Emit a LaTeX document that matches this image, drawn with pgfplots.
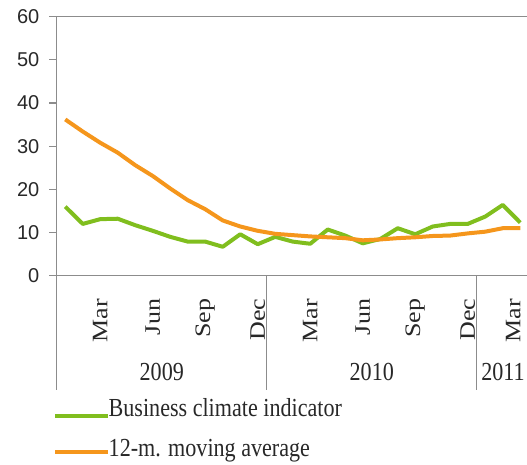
\documentclass[border=0pt]{standalone}
\usepackage{pgfplots}
\pgfplotsset{compat=1.18}
\usepackage{graphicx}
\usepackage{fontspec}
\setmainfont{Liberation Serif}
\newfontfamily\ysans{Liberation Sans}
\definecolor{bcigreen}{RGB}{128,190,30}
\definecolor{maorange}{RGB}{245,150,28}
\definecolor{axgray}{RGB}{140,140,140}
\definecolor{txt}{RGB}{40,40,40}
\newcommand\sq[1]{\scalebox{0.85}[1]{#1}}
\newcommand\sqr[1]{\scalebox{1}[0.85]{#1}}
\pgfplotstableread{
i g o
0 16.0 36.2
1 12.0 33.4
2 13.1 30.8
3 13.2 28.5
4 11.7 25.6
5 10.4 23.1
6 9.0 20.2
7 7.9 17.5
8 7.9 15.4
9 6.7 12.8
10 9.6 11.4
11 7.3 10.4
12 9.0 9.7
13 7.9 9.4
14 7.4 9.1
15 10.7 8.9
16 9.3 8.7
17 7.5 8.2
18 8.5 8.4
19 11.0 8.7
20 9.6 8.9
21 11.4 9.2
22 12.0 9.3
23 12.0 9.8
24 13.7 10.2
25 16.4 11.0
26 12.3 11.0
}\datatable
\begin{document}
\begin{tikzpicture}
\useasboundingbox (-56.5pt,-188.3pt) rectangle (470.5pt,275.7pt);
\begin{axis}[
  at={(0,0)}, anchor=south west,
  scale only axis, width=472.5pt, height=259pt,
  xmin=-0.5, xmax=26.5, ymin=0, ymax=60,
  ytick={0,10,...,60},
  xtick={2,5,8,11,14,17,20,23,26},
  xticklabels={\sqr{Mar},\sqr{Jun},\sqr{Sep},\sqr{Dec},\sqr{Mar},\sqr{Jun},\sqr{Sep},\sqr{Dec},\raisebox{7pt}[\height][\depth]{\sqr{Mar}}},
  axis line style={axgray, line width=1.2pt},
  ytick pos=left, tick align=outside, major tick length=7pt,
  ytick style={axgray, line width=1.2pt},
  xtick style={draw=none},
  /pgf/number format/assume math mode=true,
  xticklabel style={yshift=-16pt, rotate=90, anchor=east, inner sep=0pt, text=txt, font=\fontsize{26}{26}\selectfont},
  yticklabel style={inner sep=0pt, xshift=-10pt, text=txt, font=\ysans\fontsize{20}{20}\selectfont},
]
\addplot[bcigreen, line width=4pt, line join=round] table[x=i, y=g] {\datatable};
\addplot[maorange, line width=4pt, line join=round] table[x=i, y=o] {\datatable};
\end{axis}
\draw[axgray, line width=1.2pt] (0,0) -- (0,-114pt);
\draw[axgray, line width=1.2pt] (210.25pt,0) -- (210.25pt,-114pt);
\draw[axgray, line width=1.2pt] (420.25pt,0) -- (420.25pt,-114pt);
\node[text=txt, font=\fontsize{26}{26}\selectfont, inner sep=0pt] at (105.25pt,-96pt) {\sq{2009}};
\node[text=txt, font=\fontsize{26}{26}\selectfont, inner sep=0pt] at (315.25pt,-96pt) {\sq{2010}};
\node[text=txt, font=\fontsize{26}{26}\selectfont, inner sep=0pt] at (446.5pt,-96pt) {\sq{2011}};
\draw[bcigreen, line width=3.5pt] (-1.5pt,-140.3pt) -- (51.5pt,-140.3pt);
\draw[maorange, line width=3.5pt] (-1.5pt,-176.3pt) -- (51.5pt,-176.3pt);
\node[text=txt, font=\fontsize{26}{26}\selectfont, inner sep=0pt, anchor=base west] at (52pt,-141pt) {\sq{Business climate indicator}};
\node[text=txt, font=\fontsize{26}{26}\selectfont, inner sep=0pt, anchor=base west] at (52pt,-181pt) {\sq{12-m. moving average}};
\end{tikzpicture}
\end{document}
